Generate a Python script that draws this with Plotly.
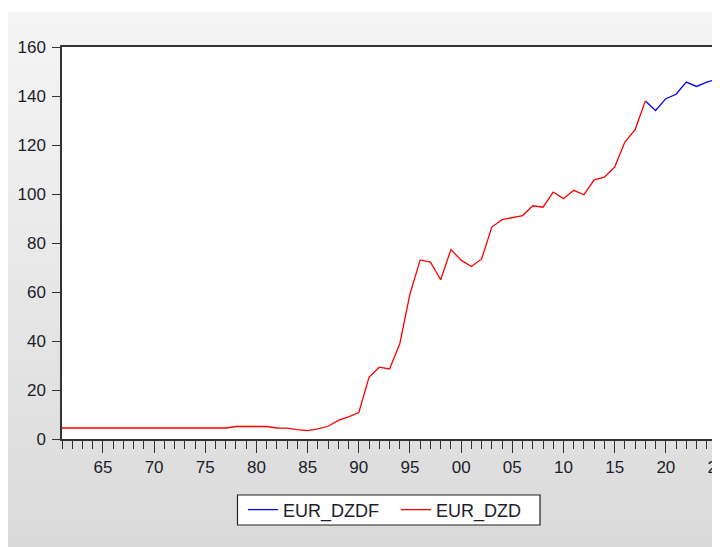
import plotly.graph_objects as go

# ---------------- data ----------------
YEARS_DZD = list(range(1961, 2019))
EUR_DZD = [
    4.5, 4.5, 4.5, 4.5, 4.5, 4.5, 4.5, 4.5, 4.5, 4.5,      # 1961-1970
    4.5, 4.5, 4.5, 4.5, 4.5, 4.5, 4.5,                      # 1971-1977
    5.1, 5.1, 5.1, 5.1,                                     # 1978-1981
    4.5, 4.4, 3.8, 3.4, 4.1, 5.2, 7.6, 9.0, 10.8,           # 1982-1990
    25.2, 29.3, 28.6, 38.8, 59.2, 73.1, 72.2, 65.0, 77.3, 73.0,   # 1991-2000
    70.4, 73.5, 86.5, 89.5, 90.5, 91.2, 95.2, 94.6, 100.8, 98.1,  # 2001-2010
    101.5, 99.7, 105.8, 106.9, 111.0, 121.2, 126.3, 138.0,        # 2011-2018
]
YEARS_DZDF = list(range(2018, 2026))
EUR_DZDF = [138.0, 134.1, 138.9, 140.7, 145.7, 143.9, 145.7, 146.8]

TICK_YEARS = [1965, 1970, 1975, 1980, 1985, 1990, 1995, 2000, 2005, 2010, 2015, 2020, 2025]
TICK_LABELS = ["65", "70", "75", "80", "85", "90", "95", "00", "05", "10", "15", "20", "25"]
Y_TICKS = [0, 20, 40, 60, 80, 100, 120, 140, 160]

# ---------------- layout geometry ----------------
# the page body adds an 8px offset, so the figure is 8px smaller than the window
OFF = 8
W, H = 720 - OFF, 547 - OFF
ML, MR, MT, MB = 62 - OFF, 3, 47 - OFF, 108
PW, PH = W - ML - MR, H - MT - MB


def px_x(x):
    return (x - OFF - ML) / PW


def px_y(y):
    return (H - MB - (y - OFF)) / PH


FONT = "Arial, Liberation Sans, sans-serif"
TXT = "#1c1c2a"

fig = go.Figure()
fig.add_trace(go.Scatter(x=YEARS_DZDF, y=EUR_DZDF, mode="lines", name="EUR_DZDF",
                         line=dict(color="#0000ff", width=1.3)))
fig.add_trace(go.Scatter(x=YEARS_DZD, y=EUR_DZD, mode="lines", name="EUR_DZD",
                         line=dict(color="#ff0000", width=1.3)))

# grey gradient panel behind the chart
shapes = []
top, bottom, n = 12, 548, 40
c0, c1 = 0xF5, 0xDA
for i in range(n):
    y0 = top + (bottom - top) * i / n
    y1 = top + (bottom - top) * (i + 1) / n + 0.5
    c = round(c0 + (c1 - c0) * (i + 0.5) / n)
    col = f"rgb({c},{c},{c})"
    shapes.append(dict(type="rect", xref="paper", yref="paper", layer="below",
                       x0=px_x(8), x1=px_x(721), y0=px_y(y1), y1=px_y(y0),
                       fillcolor=col, line=dict(width=0)))
# white plotting area
shapes.append(dict(type="rect", xref="paper", yref="paper", layer="below",
                   x0=0, x1=1, y0=0, y1=1, fillcolor="white", line=dict(width=0)))
# legend frame
shapes.append(dict(type="rect", xref="paper", yref="paper", layer="below",
                   x0=px_x(237.5), x1=px_x(540), y0=px_y(525), y1=px_y(495),
                   fillcolor="white", line=dict(color="#222", width=1.2)))

fig.update_layout(
    width=W, height=H,
    margin=dict(l=ML, r=MR, t=MT, b=MB, pad=0, autoexpand=False),
    paper_bgcolor="white",
    plot_bgcolor="white",
    shapes=shapes,
    font=dict(family=FONT, size=17, color=TXT),
    showlegend=True,
    legend=dict(orientation="h", x=px_x(243), xanchor="left", y=px_y(510), yanchor="middle",
                bgcolor="rgba(0,0,0,0)", borderwidth=0,
                font=dict(family=FONT, size=18, color=TXT),
                itemwidth=30, entrywidth=108, entrywidthmode="pixels",
                traceorder="normal"),
    xaxis=dict(range=[1961, 2025], showgrid=False, zeroline=False,
               tickmode="array", tickvals=TICK_YEARS, ticktext=TICK_LABELS,
               ticks="outside", ticklen=12, tickwidth=1.2, tickcolor="#333",
               ticklabeloverflow="allow",
               showline=True, linecolor="#333", linewidth=1.5, mirror=True,
               minor=dict(tickmode="linear", tick0=1961, dtick=1, ticks="outside",
                          ticklen=8, tickwidth=1.2, tickcolor="#333"),
               tickfont=dict(family=FONT, size=17, color=TXT)),
    yaxis=dict(range=[0, 160], showgrid=False, zeroline=False,
               tickmode="array", tickvals=Y_TICKS,
               ticks="outside", ticklen=8, tickwidth=1.2, tickcolor="#333",
               ticklabelstandoff=3, ticklabeloverflow="allow",
               showline=True, linecolor="#333", linewidth=1.5, mirror=True,
               tickfont=dict(family=FONT, size=17, color=TXT)),
)

fig.write_html("out.html")
